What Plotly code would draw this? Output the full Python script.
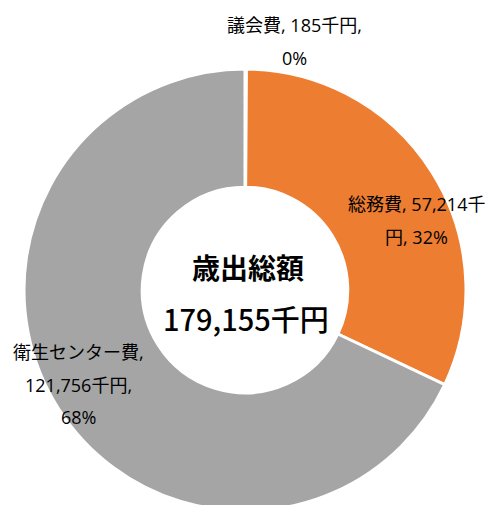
import plotly.graph_objects as go

categories = ["議会費", "総務費", "衛生センター費"]
values = [185, 57214, 121756]
colors = ["#4472C4", "#ED7D31", "#A5A5A5"]
center_title = "歳出総額"
unit = "千円"

total = sum(values)

W, H = 493, 505
OFF = 8  # page body margin offset

def px_x(x):
    return (x - OFF) / W

def px_y(y):
    return 1 - (y - OFF) / H

FONT = "Open Sans, Noto Sans CJK JP"

fig = go.Figure(go.Pie(
    labels=categories,
    values=values,
    hole=0.465,
    sort=False,
    direction="clockwise",
    rotation=0,
    textinfo="none",
    hoverinfo="label+value+percent",
    marker=dict(colors=colors, line=dict(color="white", width=3)),
    domain=dict(x=[px_x(24), px_x(466)], y=[px_y(511), px_y(69)]),
    showlegend=False,
))

def fmt(v):
    return f"{v:,}"

pcts = [round(v / total * 100) for v in values]
label_lines = [
    [f"{categories[0]}, {fmt(values[0])}{unit},", f"{pcts[0]}%"],
    [f"{categories[1]}, {fmt(values[1])}{unit[0]}", f"{unit[1]}, {pcts[1]}%"],
    [f"{categories[2]},", f"{fmt(values[2])}{unit},", f"{pcts[2]}%"],
]
label_pos = [(294, [25, 58]), (416, [204, 237]), (78, [352, 385, 417])]

annotations = []
for lines, (cx, ys) in zip(label_lines, label_pos):
    for line, y in zip(lines, ys):
        annotations.append(dict(
            x=px_x(cx), y=px_y(y), xref="paper", yref="paper",
            text=line, showarrow=False, xanchor="center", yanchor="middle",
            font=dict(family=FONT, size=18, color="#000000"),
        ))

annotations.append(dict(
    x=px_x(248), y=px_y(268), xref="paper", yref="paper",
    text=f"<b>{center_title}</b>", showarrow=False, xanchor="center", yanchor="middle",
    font=dict(family=FONT, size=28, color="#000000"),
))
annotations.append(dict(
    x=px_x(246), y=px_y(318), xref="paper", yref="paper",
    text=f"{fmt(total)}{unit}", showarrow=False, xanchor="center", yanchor="middle",
    font=dict(family="Noto Sans CJK JP", size=29, color="#000000", weight=500),
))

fig.update_layout(
    width=W, height=H,
    margin=dict(l=0, r=0, t=0, b=0),
    paper_bgcolor="white",
    plot_bgcolor="white",
    annotations=annotations,
)

fig.write_html("out.html")
